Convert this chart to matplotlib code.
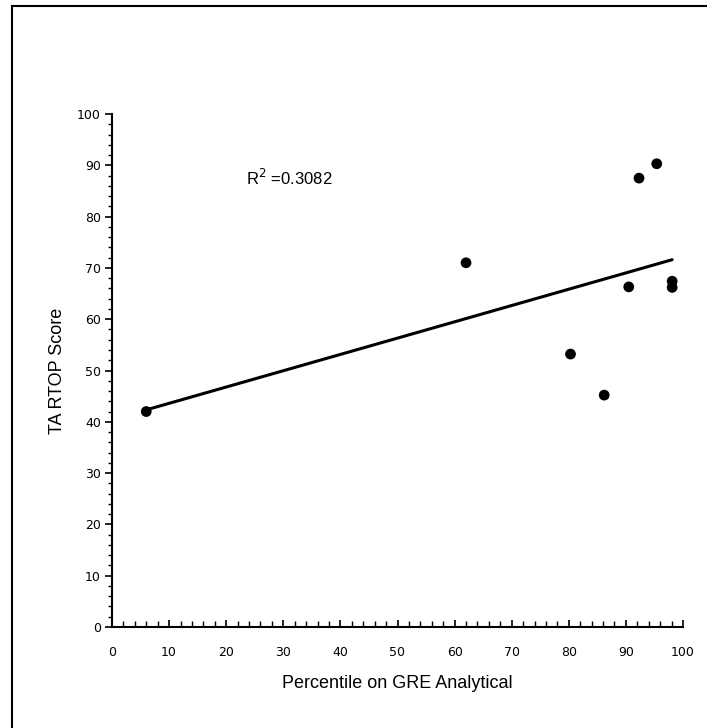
import numpy as np
import matplotlib
matplotlib.use("Agg")
import matplotlib.pyplot as plt
from matplotlib.lines import Line2D

# Data
gre_percentile = [6, 62, 80.3, 86.2, 90.5, 92.3, 95.4, 98.1, 98.1]
rtop_score = [42.0, 71.0, 53.2, 45.2, 66.3, 87.5, 90.3, 67.4, 66.2]
r2_text = "R$^{2}$ =0.3082"
x_ticks = list(range(0, 101, 10))
y_ticks = list(range(0, 101, 10))

fig = plt.figure(figsize=(7.07, 7.28), dpi=100)
ax = fig.add_axes([112/707, 1-627/728, (683-112)/707, (627-114)/728])

ax.scatter(gre_percentile, rtop_score, s=60, color="black", zorder=3, edgecolors="none")

slope, intercept = np.polyfit(gre_percentile, rtop_score, 1)
xs = np.array([min(gre_percentile), max(gre_percentile)])
ax.plot(xs, slope * xs + intercept, color="black", lw=2.2, solid_capstyle="round")

ax.set_xlim(0, 100)
ax.set_ylim(0, 100)
ax.set_xticks(x_ticks)
ax.set_yticks(y_ticks)
ax.set_xticks(np.arange(0, 101, 2), minor=True)
ax.set_yticks(np.arange(0, 101, 2), minor=True)
ax.spines["top"].set_visible(False)
ax.spines["right"].set_visible(False)
for s in ("left", "bottom"):
    ax.spines[s].set_linewidth(1.5)
ax.tick_params(axis="x", which="major", direction="in", length=5, width=1.2, labelsize=9, pad=14)
ax.tick_params(axis="x", which="minor", direction="in", length=4, width=1.0)
ax.tick_params(axis="y", which="major", direction="out", length=5, width=1.2, labelsize=9, pad=3)
ax.tick_params(axis="y", which="minor", direction="out", length=3, width=1.0)
for lbl in ax.get_xticklabels() + ax.get_yticklabels():
    lbl.set_family("DejaVu Sans")

ax.set_xlabel("Percentile on GRE Analytical", fontsize=13, family="Liberation Sans", labelpad=11)
ax.set_ylabel("TA RTOP Score", fontsize=13, family="Liberation Sans", labelpad=8)
ax.text(23.5, 87.5, r2_text, fontsize=12, family="Liberation Sans", va="center", ha="left")

# outer border fragments
fig.add_artist(Line2D([12/707, 12/707], [0, 1-6/728], transform=fig.transFigure, color="black", lw=1.5))
fig.add_artist(Line2D([12/707, 1], [1-6/728, 1-6/728], transform=fig.transFigure, color="black", lw=1.5))

fig.savefig("out.png", dpi=100)
